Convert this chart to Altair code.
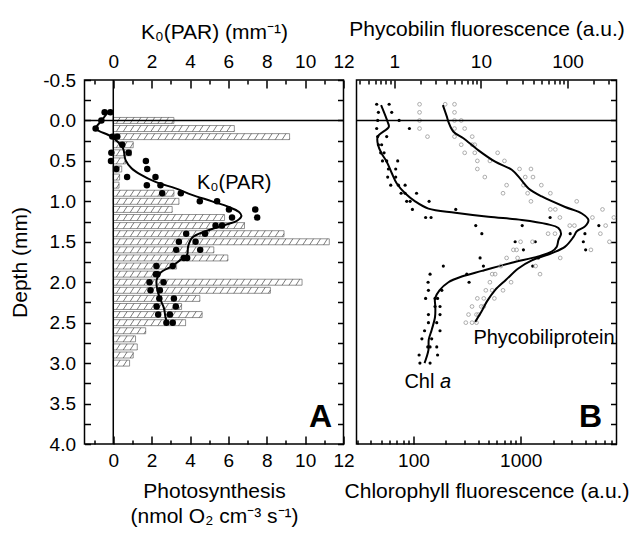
import altair as alt
import pandas as pd

FONT = "Liberation Sans"

# ---------------- Panel A data ----------------
# Photosynthesis bars (depth mm, nmol O2 cm-3 s-1)
ps_depth = [0.0, 0.1, 0.2, 0.3, 0.4, 0.5, 0.6, 0.7, 0.8, 0.9, 1.0, 1.1, 1.2, 1.3, 1.4, 1.5,
            1.6, 1.7, 1.8, 1.9, 2.0, 2.1, 2.2, 2.3, 2.4, 2.5, 2.6, 2.7, 2.8, 2.9, 3.0]
ps_value = [3.16, 6.31, 9.19, 1.04, 0.94, 0.64, 0.44, 0.33, 0.30, 3.16, 3.42, 3.07, 5.8, 6.84,
            8.9, 11.26, 5.24, 5.97, 3.3, 2.4, 9.84, 8.19, 4.51, 3.56, 4.63, 3.77, 1.69, 1.16,
            1.25, 1.04, 0.85]

# K0(PAR) measured points
k0_depth = [-0.1, -0.1, 0.0, 0.1, 0.2, 0.2, 0.3, 0.4, 0.4, 0.5, 0.5, 0.6, 0.6, 0.7, 0.7, 0.8, 0.8,
            0.9, 0.9, 1.0, 1.0, 1.1, 1.1, 1.2, 1.2, 1.3, 1.3, 1.4, 1.4, 1.5, 1.5, 1.6, 1.6, 1.7, 1.7,
            1.8, 1.8, 1.9, 1.9, 2.0, 2.0, 2.1, 2.1, 2.2, 2.2, 2.3, 2.3, 2.4, 2.4, 2.5, 2.5]
k0_value = [-0.45, -0.15, -0.62, -0.92, -0.05, 0.21, 0.47, -0.1, 0.8, -0.12, 1.7, 0.16, 1.77,
            0.72, 2.2, 1.75, 2.46, 2.55, 3.52, 4.51, 5.41, 6.03, 7.4, 6.19, 7.5, 5.33, 5.67, 3.8,
            4.78, 3.42, 4.29, 3.28, 4.53, 3.68, 3.85, 2.25, 3.1, 2.22, 2.3, 1.89, 2.62, 1.94, 2.43,
            2.4, 3.16, 2.26, 3.26, 2.34, 2.95, 2.77, 3.1]

# K0(PAR) smoothed curve
k0l_depth = [-0.11, 0.0, 0.1, 0.2, 0.34, 0.49, 0.59, 0.67, 0.76, 0.84, 0.92, 1.0, 1.07, 1.13,
             1.18, 1.24, 1.29, 1.37, 1.45, 1.56, 1.66, 1.71, 1.8, 1.88, 1.97, 2.1, 2.22, 2.32,
             2.43, 2.51]
k0l_value = [-0.26, -0.6, -0.9, -0.1, 0.5, 0.64, 0.95, 1.43, 2.2, 3.25, 4.1, 5.15, 6.02, 6.54,
             6.68, 6.45, 5.85, 4.81, 4.11, 3.9, 3.85, 3.59, 3.07, 2.47, 2.26, 2.3, 2.47, 2.64,
             2.72, 2.81]

# ---------------- Panel B data ----------------
chl_depth = [-0.2, -0.2, -0.1, -0.1, 0.0, 0.0, 0.1, 0.1, 0.2, 0.2, 0.3, 0.3, 0.4, 0.4,
             0.5, 0.5, 0.5, 0.6, 0.6, 0.7, 0.7, 0.8, 0.8, 0.8, 0.9, 0.9, 0.9, 1.0, 1.0, 1.0,
             1.1, 1.1, 1.2, 1.2, 1.2, 1.3, 1.3, 1.3, 1.4, 1.4, 1.4, 1.5, 1.5, 1.5, 1.6, 1.6,
             1.7, 1.7, 1.8, 1.8, 1.8, 1.9, 1.9, 2.0, 2.0, 2.1, 2.1, 2.2, 2.2, 2.2, 2.3, 2.3,
             2.4, 2.4, 2.5, 2.5, 2.6, 2.6, 2.7, 2.7, 2.8, 2.8, 2.8, 2.9, 2.9, 3.0, 3.0]
chl_value = [45.5, 59.4, 47.2, 62.8, 46.5, 73.6, 45.5, 91.8, 46.5, 56.4, 47.2, 50.6, 49.6, 53.3,
             51.5, 56.4, 71.4, 58.5, 68.4, 57.6, 68.4, 61.5, 72.5, 83.7, 76.8, 83.7, 107, 86.6, 93.2, 140,
             97.9, 248, 130, 146, 1877, 381, 1032, 5340, 434, 2888, 3963, 887, 1366, 3830, 1059, 4025,
             418, 1458, 190, 449, 1292, 143, 314, 137, 330, 138, 184, 130, 159, 168, 159, 177,
             138, 177, 138, 165, 127, 177, 120, 148, 136, 143, 165, 113, 168, 115, 143]

chll_depth = [-0.19, 0.02, 0.08, 0.2, 0.31, 0.41, 0.51, 0.65, 0.78, 0.9, 1.0, 1.09, 1.14, 1.19,
              1.23, 1.28, 1.33, 1.4, 1.48, 1.56, 1.62, 1.68, 1.76, 1.86, 1.93, 2.0, 2.1, 2.2,
              2.3, 2.43, 2.59, 2.71, 2.84, 3.0]
chll_value = [50, 57.6, 59, 46.5, 47, 50.6, 56.4, 62.8, 70, 83.7, 103.7, 138, 245, 499,
              1023, 1736, 2243, 2375, 2243, 2166, 1944, 1458, 824, 434, 282, 212, 175, 159,
              160, 159, 148, 139, 138, 127]

phy_depth = [-0.2, -0.2, -0.2, -0.1, -0.1, 0.0, 0.0, 0.0, 0.1, 0.1, 0.1, 0.2, 0.2, 0.2,
             0.3, 0.3, 0.3, 0.4, 0.4, 0.4, 0.5, 0.5, 0.5, 0.6, 0.6, 0.6, 0.7, 0.7, 0.7,
             0.8, 0.8, 0.8, 0.9, 0.9, 0.9, 1.0, 1.0, 1.1, 1.1, 1.1, 1.2, 1.2, 1.2, 1.3, 1.3, 1.3,
             1.4, 1.4, 1.4, 1.5, 1.5, 1.5, 1.6, 1.6, 1.6, 1.7, 1.7, 1.7, 1.8, 1.8, 1.9, 1.9, 1.9,
             2.0, 2.0, 2.1, 2.1, 2.1, 2.2, 2.2, 2.2, 2.3, 2.3, 2.3, 2.4, 2.4, 2.4, 2.5, 2.5, 2.5]
phy_value = [1.96, 3.87, 4.96, 1.96, 4.96, 1.96, 4.96, 5.93, 1.96, 4.96, 6.5, 2.42, 4.96, 7.94,
             5.93, 7.94, 8.5, 6.5, 8.5, 15.6, 9.1, 12.7, 18.7, 9.1, 27.9, 37.8, 11.1, 32.5, 39.9,
             19.8, 31, 49.8, 18, 34.6, 63.3, 37.8, 127.5, 63.3, 72.2, 253, 81.5, 193.6, 342, 106, 120, 275,
             59.6, 71.6, 239, 28.7, 39.4, 304, 23.7, 25.8, 186, 19.8, 26.5, 82.3, 17, 42.8, 13.5, 14.6, 48.1,
             12.7, 22.3, 11.4, 13.5, 18, 9.1, 10.8, 14.3, 7.9, 10.1, 10.8, 7.2, 8.9, 9.4, 6.7, 7.9, 8.9]

phyl_depth = [-0.19, -0.05, 0.02, 0.14, 0.22, 0.37, 0.51, 0.61, 0.72, 0.84, 0.94, 1.07, 1.15,
              1.23, 1.31, 1.37, 1.44, 1.56, 1.64, 1.73, 1.83, 1.97, 2.1, 2.24, 2.36, 2.49]
phyl_value = [3.64, 4.04, 4.23, 4.83, 6.28, 9.38, 14.6, 22.7, 28.4, 35.5, 50.4, 93.8, 146,
              174, 159, 128, 117, 93.8, 66, 38.7, 27, 19.5, 14.5, 11.7, 10.2, 8.6]

# Axis tick positions
depth_ticks = [-0.5, -0.25, 0.0, 0.25, 0.5, 0.75, 1.0, 1.25, 1.5, 1.75, 2.0, 2.25, 2.5, 2.75,
               3.0, 3.25, 3.5, 3.75, 4.0]
a_major = [0, 2, 4, 6, 8, 10, 12]
a_minor = [-1, 1, 3, 5, 7, 9, 11]
chl_major = [100, 1000]
chl_minor = [30, 40, 50, 60, 70, 80, 90, 200, 300, 400, 500, 600, 700, 800, 900,
             2000, 3000, 4000, 5000, 6000, 7000]
phy_major = [1, 10, 100]
phy_minor = [0.4, 0.5, 0.6, 0.7, 0.8, 0.9, 2, 3, 4, 5, 6, 7, 8, 9,
             20, 30, 40, 50, 60, 70, 80, 90, 200, 300]

# Annotations
ann_a = pd.DataFrame({"x": [4.36, 10.8], "y": [0.77, 3.67], "t": ["K\u2080(PAR)", "A"]})
ann_b = pd.DataFrame({"x": [362, 82.4, 177, 4467], "y": [2.69, 3.23, 3.23, 3.67],
                      "t": ["Phycobiliprotein", "Chl ", "a", "B"]})

# ---------------- build tables ----------------
HALF = 0.037
ps_df = pd.DataFrame({"d": ps_depth, "v": ps_value})
ps_df["top"] = ps_df["d"] - HALF
ps_df["bot"] = ps_df["d"] + HALF
ps_df["zero"] = 0.0

# hatch segments ("/") inside every bar
STEP, DX = 0.36, 0.2
rows = []
for d, v in zip(ps_depth, ps_value):
    top, bot = d - HALF, d + HALF
    x = -DX
    while x < v:
        p0 = max(0.0, (0 - x) / DX)
        p1 = min(1.0, (v - x) / DX)
        if p1 > p0:
            rows.append({"xa": x + DX * p0, "ya": bot + (top - bot) * p0,
                         "xb": x + DX * p1, "yb": bot + (top - bot) * p1})
        x += STEP
hatch_df = pd.DataFrame(rows)

k0_df = pd.DataFrame({"d": k0_depth, "v": k0_value})
k0l_df = pd.DataFrame({"d": k0l_depth, "v": k0l_value, "i": range(len(k0l_depth))})
chl_df = pd.DataFrame({"d": chl_depth, "v": chl_value})
chll_df = pd.DataFrame({"d": chll_depth, "v": chll_value, "i": range(len(chll_depth))})
phy_df = pd.DataFrame({"d": phy_depth, "v": phy_value})
phyl_df = pd.DataFrame({"d": phyl_depth, "v": phyl_value, "i": range(len(phyl_depth))})

# ---------------- scales & axes ----------------
y_sc = alt.Scale(domain=[-0.5, 4.0], reverse=True, nice=False, zero=False)
xa_sc = alt.Scale(domain=[-1.5, 12], nice=False, zero=False)
chl_sc = alt.Scale(type="log", domain=[29.5, 7800], nice=False)
phy_sc = alt.Scale(type="log", domain=[0.367, 367], nice=False)

MAJ, MIN, YT = {"expr": "-8"}, {"expr": "-4"}, {"expr": "-6"}

depth_lab = ("abs(datum.value*2 - round(datum.value*2)) < 0.01 ? "
             "replace(format(datum.value, '.1f'), '\u2212', '-') : ''")

ax_left = alt.Axis(orient="left", values=depth_ticks, labelExpr=depth_lab, tickSize=YT,
                   labelPadding=15, title="Depth (mm)", titlePadding=12)
ax_rightA = alt.Axis(orient="right", values=depth_ticks, labels=False, tickSize=YT, title=None)
ax_rightB = alt.Axis(orient="right", values=depth_ticks, labels=False, tickSize=YT, title=None)

ax_a_bot = alt.Axis(orient="bottom", values=a_major, format="d", tickSize=MAJ, labelPadding=15,
                    title=["Photosynthesis", "(nmol O\u2082 cm\u207b\u00b3 s\u207b\u00b9)"],
                    titlePadding=10, titleLineHeight=25)
ax_a_bot_m = alt.Axis(orient="bottom", values=a_minor, labels=False, tickSize=MIN, title=None)
ax_a_top = alt.Axis(orient="top", values=a_major, format="d", tickSize=MAJ, labelPadding=17,
                    title="K\u2080(PAR) (mm\u207b\u00b9)", titlePadding=10)
ax_a_top_m = alt.Axis(orient="top", values=a_minor, labels=False, tickSize=MIN, title=None)

ax_b_bot = alt.Axis(orient="bottom", values=chl_major, format="d", tickSize=MAJ, labelPadding=15,
                    title="Chlorophyll fluorescence (a.u.)", titlePadding=10)
ax_b_bot_m = alt.Axis(orient="bottom", values=chl_minor, labels=False, tickSize=MIN, title=None)
ax_b_top = alt.Axis(orient="top", values=phy_major, format="d", tickSize=MAJ, labelPadding=17,
                    title="Phycobilin fluorescence (a.u.)", titlePadding=13)
ax_b_top_m = alt.Axis(orient="top", values=phy_minor, labels=False, tickSize=MIN, title=None)

# ---------------- Panel A ----------------
bars = alt.Chart(ps_df).mark_rect(fill="white", stroke="#777", strokeWidth=0.8).encode(
    x=alt.X("zero:Q", scale=xa_sc, axis=ax_a_bot), x2="v:Q",
    y=alt.Y("top:Q", scale=y_sc, axis=ax_left), y2="bot:Q")
hatch = alt.Chart(hatch_df).mark_rule(color="#444", strokeWidth=0.7).encode(
    x=alt.X("xa:Q", scale=xa_sc, axis=ax_a_bot_m), x2="xb:Q",
    y=alt.Y("ya:Q", scale=y_sc, axis=ax_rightA), y2="yb:Q")
vline = alt.Chart(pd.DataFrame({"x": [0.0]})).mark_rule(color="black", strokeWidth=1.5).encode(
    x=alt.X("x:Q", scale=xa_sc, axis=None))
hline_a = alt.Chart(pd.DataFrame({"y": [0.0]})).mark_rule(color="black", strokeWidth=1.5).encode(
    y=alt.Y("y:Q", scale=y_sc, axis=None))
k0_line = alt.Chart(k0l_df).mark_line(color="black", strokeWidth=2, interpolate="catmull-rom").encode(
    x=alt.X("v:Q", scale=xa_sc, axis=ax_a_top_m), y=alt.Y("d:Q", scale=y_sc, axis=None),
    order="i:Q")
k0_pts = alt.Chart(k0_df).mark_circle(size=42, color="black", opacity=1).encode(
    x=alt.X("v:Q", scale=xa_sc, axis=ax_a_top), y=alt.Y("d:Q", scale=y_sc, axis=None))
txt_k0 = alt.Chart(ann_a.iloc[[0]]).mark_text(align="left", baseline="middle", fontSize=20,
                                              font=FONT, color="black").encode(
    x=alt.X("x:Q", scale=xa_sc, axis=None), y=alt.Y("y:Q", scale=y_sc, axis=None), text="t:N")
txt_A = alt.Chart(ann_a.iloc[[1]]).mark_text(align="center", baseline="middle", fontSize=32,
                                             fontWeight="bold", font=FONT, color="black").encode(
    x=alt.X("x:Q", scale=xa_sc, axis=None), y=alt.Y("y:Q", scale=y_sc, axis=None), text="t:N")

panelA = alt.layer(bars, hatch, vline, hline_a, k0_line, k0_pts, txt_k0, txt_A).resolve_axis(
    x="independent", y="independent").properties(width=259, height=364)

# ---------------- Panel B ----------------
chl_pts = alt.Chart(chl_df).mark_circle(size=10, color="black", opacity=1, clip=True).encode(
    x=alt.X("v:Q", scale=chl_sc, axis=ax_b_bot), y=alt.Y("d:Q", scale=y_sc, axis=ax_rightB))
chl_line = alt.Chart(chll_df).mark_line(color="black", strokeWidth=2, interpolate="catmull-rom").encode(
    x=alt.X("v:Q", scale=chl_sc, axis=ax_b_bot_m), y=alt.Y("d:Q", scale=y_sc, axis=None),
    order="i:Q")
phy_pts = alt.Chart(phy_df).mark_point(shape="circle", filled=False, size=14, color="#999",
                                       strokeWidth=0.8, opacity=1, clip=True).encode(
    x=alt.X("v:Q", scale=phy_sc, axis=ax_b_top), y=alt.Y("d:Q", scale=y_sc, axis=None))
phy_line = alt.Chart(phyl_df).mark_line(color="black", strokeWidth=2, interpolate="catmull-rom").encode(
    x=alt.X("v:Q", scale=phy_sc, axis=ax_b_top_m), y=alt.Y("d:Q", scale=y_sc, axis=None),
    order="i:Q")
hline_b = alt.Chart(pd.DataFrame({"y": [0.0]})).mark_rule(color="black", strokeWidth=1.5).encode(
    y=alt.Y("y:Q", scale=y_sc, axis=None))


def btxt(rowsel, **kw):
    return alt.Chart(ann_b.iloc[rowsel]).mark_text(font=FONT, color="black", **kw).encode(
        x=alt.X("x:Q", scale=chl_sc, axis=None), y=alt.Y("y:Q", scale=y_sc, axis=None), text="t:N")


txt_phy = btxt([0], align="left", baseline="middle", fontSize=20)
txt_chl = btxt([1], align="left", baseline="middle", fontSize=20)
txt_a = btxt([2], align="left", baseline="middle", fontSize=20, fontStyle="italic")
txt_B = btxt([3], align="center", baseline="middle", fontSize=32, fontWeight="bold")

panelB = alt.layer(chl_pts, chl_line, phy_pts, phy_line, hline_b, txt_phy, txt_chl, txt_a,
                   txt_B).resolve_scale(x="independent").resolve_axis(
    x="independent", y="independent").properties(width=260, height=364)

chart = alt.hconcat(panelA, panelB, spacing=13, bounds="flush").properties(
    padding={"left": 8.5, "top": 17, "right": 5, "bottom": 5},
    background="white",
).configure_view(stroke="black", strokeWidth=1.5).configure_axis(
    labelFont=FONT, labelFontSize=19, labelColor="black", titleFont=FONT, titleFontSize=21,
    titleFontWeight="normal", titleColor="black", tickColor="black", tickWidth=1.5,
    domain=False, grid=False, labelFlush=False, labelOverlap=False)

chart.save("out.html", embed_options={"renderer": "svg", "actions": False})
